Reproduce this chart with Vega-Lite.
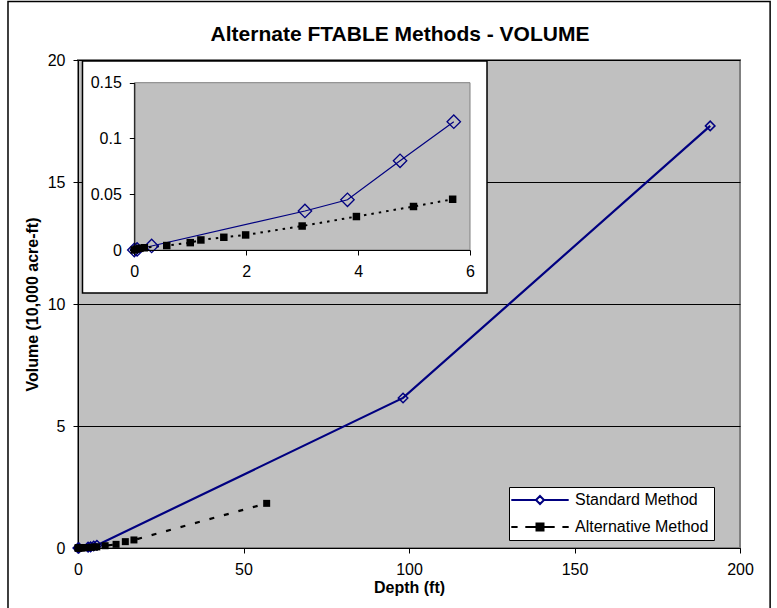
{
  "$schema": "https://vega.github.io/schema/vega-lite/v6.json",
  "width": 662,
  "height": 488,
  "autosize": {"type": "none"},
  "padding": {"left": 78, "top": 60, "right": 37, "bottom": 60},
  "background": "white",
  "title": {"text": "Alternate FTABLE Methods - VOLUME", "fontSize": 21, "fontWeight": "bold", "font": "Liberation Sans", "color": "black", "anchor": "middle", "dx": -9, "offset": -61, "baseline": "alphabetic"},
  "data": {
    "values": [
      {"method": "Standard Method", "depth": 0, "volume": 0},
      {"method": "Standard Method", "depth": 0.05, "volume": 0.0005},
      {"method": "Standard Method", "depth": 0.31, "volume": 0.0036},
      {"method": "Standard Method", "depth": 3.05, "volume": 0.035},
      {"method": "Standard Method", "depth": 3.81, "volume": 0.045},
      {"method": "Standard Method", "depth": 4.75, "volume": 0.08},
      {"method": "Standard Method", "depth": 5.71, "volume": 0.115},
      {"method": "Standard Method", "depth": 98.2, "volume": 6.15},
      {"method": "Standard Method", "depth": 191, "volume": 17.3},
      {"method": "Alternative Method", "depth": 0, "volume": 0},
      {"method": "Alternative Method", "depth": 0.04, "volume": 0.0008},
      {"method": "Alternative Method", "depth": 0.1, "volume": 0.0015},
      {"method": "Alternative Method", "depth": 0.18, "volume": 0.002},
      {"method": "Alternative Method", "depth": 0.58, "volume": 0.004},
      {"method": "Alternative Method", "depth": 1.0, "volume": 0.0066},
      {"method": "Alternative Method", "depth": 1.19, "volume": 0.009},
      {"method": "Alternative Method", "depth": 1.6, "volume": 0.0114},
      {"method": "Alternative Method", "depth": 1.99, "volume": 0.0135},
      {"method": "Alternative Method", "depth": 3.0, "volume": 0.0215},
      {"method": "Alternative Method", "depth": 3.97, "volume": 0.03},
      {"method": "Alternative Method", "depth": 4.99, "volume": 0.039},
      {"method": "Alternative Method", "depth": 5.69, "volume": 0.0455},
      {"method": "Alternative Method", "depth": 8.2, "volume": 0.094},
      {"method": "Alternative Method", "depth": 11.5, "volume": 0.15},
      {"method": "Alternative Method", "depth": 14.3, "volume": 0.26},
      {"method": "Alternative Method", "depth": 16.9, "volume": 0.33},
      {"method": "Alternative Method", "depth": 57, "volume": 1.83}
    ]
  },
  "layer": [
    {
      "data": {"values": [{}]},
      "mark": {"type": "rect", "fill": null, "fillOpacity": 0, "stroke": "black", "strokeWidth": 1.5},
      "encoding": {
        "x": {"datum": -21.15, "type": "quantitative", "scale": {"domain": [0, 200]}, "axis": null},
        "x2": {"datum": 209.1},
        "y": {"datum": 22.4, "type": "quantitative", "scale": {"domain": [0, 20]}, "axis": null},
        "y2": {"datum": -3}
      }
    },
    {
      "transform": [{"filter": "datum.method == 'Standard Method'"}],
      "mark": {"type": "line", "strokeWidth": 2.2},
      "encoding": {
        "x": {"field": "depth", "type": "quantitative", "scale": {"domain": [0, 200]}, "axis": {"orient": "bottom", "title": "Depth (ft)", "values": [0, 50, 100, 150, 200], "grid": false, "labelFlush": false, "titlePadding": 2}},
        "y": {"field": "volume", "type": "quantitative", "scale": {"domain": [0, 20]}, "axis": {"orient": "left", "title": "Volume (10,000 acre-ft)", "values": [0, 5, 10, 15, 20], "grid": true, "gridColor": "black", "gridWidth": 1, "labelFlush": false, "titlePadding": 7}},
        "color": {
          "field": "method", "type": "nominal",
          "scale": {"domain": ["Standard Method", "Alternative Method"], "range": ["#000080", "#000000"]},
          "legend": {
            "orient": "none", "legendX": 431, "legendY": 427, "title": null,
            "fillColor": "white", "strokeColor": "black", "padding": 5, "rowPadding": 11,
            "labelFont": "Liberation Sans", "labelFontSize": 16, "labelColor": "black",
            "symbolSize": 196, "symbolOffset": 18, "labelOffset": 27,
            "encode": {
              "symbols": {
                "update": {
                  "shape": {"signal": "datum.value == 'Standard Method' ? 'M-4.1,0H-0.57M0.57,0H4.1M0,-0.57L0.57,0L0,0.57L-0.57,0Z' : 'M-4.1,0H-3.2M-2.1,0H-0.5M0.5,0H2.1M3.2,0H4.1M-0.5,-0.5H0.5V0.5H-0.5Z'"},
                  "stroke": {"signal": "datum.value == 'Standard Method' ? '#000080' : '#000000'"},
                  "fill": {"signal": "datum.value == 'Standard Method' ? '#ffffff' : '#000000'"},
                  "strokeWidth": {"value": 2},
                  "opacity": {"value": 1},
                  "fillOpacity": {"value": 1},
                  "strokeOpacity": {"value": 1}
                }
              }
            }
          }
        }
      }
    },
    {
      "transform": [{"filter": "datum.method == 'Alternative Method'"}],
      "mark": {"type": "line", "strokeWidth": 2.2, "color": "black", "strokeDash": [5, 10]},
      "encoding": {
        "x": {"field": "depth", "type": "quantitative", "scale": {"domain": [0, 200]}, "axis": null},
        "y": {"field": "volume", "type": "quantitative", "scale": {"domain": [0, 20]}, "axis": null}
      }
    },
    {
      "transform": [{"filter": "datum.method == 'Standard Method'"}],
      "mark": {"type": "point", "shape": "diamond", "filled": false, "stroke": "#000080", "strokeWidth": 1.5, "size": 90, "opacity": 1},
      "encoding": {
        "x": {"field": "depth", "type": "quantitative", "scale": {"domain": [0, 200]}, "axis": null},
        "y": {"field": "volume", "type": "quantitative", "scale": {"domain": [0, 20]}, "axis": null}
      }
    },
    {
      "transform": [{"filter": "datum.method == 'Alternative Method'"}],
      "mark": {"type": "point", "shape": "square", "filled": true, "fill": "black", "size": 49, "opacity": 1},
      "encoding": {
        "x": {"field": "depth", "type": "quantitative", "scale": {"domain": [0, 200]}, "axis": null},
        "y": {"field": "volume", "type": "quantitative", "scale": {"domain": [0, 20]}, "axis": null}
      }
    },
    {
      "data": {"values": [{}]},
      "mark": {"type": "rect", "fill": "white", "stroke": "black", "strokeWidth": 1.5},
      "encoding": {
        "x": {"datum": -0.926, "type": "quantitative", "scale": {"domain": [0, 6], "range": [56.3, 392]}, "axis": null},
        "x2": {"datum": 6.304},
        "y": {"datum": 0.1695, "type": "quantitative", "scale": {"domain": [0, 0.15], "range": [190, 22.7]}, "axis": null},
        "y2": {"datum": -0.0386}
      }
    },
    {
      "data": {"values": [{}]},
      "mark": {"type": "rect", "fill": "#c0c0c0", "stroke": "#808080", "strokeWidth": 1},
      "encoding": {
        "x": {"datum": 0, "type": "quantitative", "scale": {"domain": [0, 6], "range": [56.3, 392]}, "axis": null},
        "x2": {"datum": 6},
        "y": {"datum": 0, "type": "quantitative", "scale": {"domain": [0, 0.15], "range": [190, 22.7]}, "axis": null},
        "y2": {"datum": 0.15}
      }
    },
    {
      "transform": [{"filter": "datum.method == 'Standard Method' && datum.depth <= 6"}],
      "mark": {"type": "line", "strokeWidth": 1.2, "color": "#000080"},
      "encoding": {
        "x": {"field": "depth", "type": "quantitative", "scale": {"domain": [0, 6], "range": [56.3, 392]}, "axis": {"orient": "bottom", "offset": -298, "values": [0, 2, 4, 6], "grid": false, "title": null, "labelFlush": false, "zindex": 1}},
        "y": {"field": "volume", "type": "quantitative", "scale": {"domain": [0, 0.15], "range": [190, 22.7]}, "axis": {"orient": "left", "offset": -56.3, "values": [0, 0.05, 0.1, 0.15], "format": ".2~f", "grid": false, "title": null, "labelFlush": false, "zindex": 1}}
      }
    },
    {
      "transform": [{"filter": "datum.method == 'Alternative Method' && datum.depth <= 6"}],
      "mark": {"type": "line", "strokeWidth": 2, "color": "black", "strokeDash": [2.5, 5]},
      "encoding": {
        "x": {"field": "depth", "type": "quantitative", "scale": {"domain": [0, 6], "range": [56.3, 392]}, "axis": null},
        "y": {"field": "volume", "type": "quantitative", "scale": {"domain": [0, 0.15], "range": [190, 22.7]}, "axis": null}
      }
    },
    {
      "transform": [{"filter": "datum.method == 'Standard Method' && datum.depth <= 6"}],
      "mark": {"type": "point", "shape": "diamond", "filled": false, "stroke": "#000080", "strokeWidth": 1.3, "size": 180, "opacity": 1},
      "encoding": {
        "x": {"field": "depth", "type": "quantitative", "scale": {"domain": [0, 6], "range": [56.3, 392]}, "axis": null},
        "y": {"field": "volume", "type": "quantitative", "scale": {"domain": [0, 0.15], "range": [190, 22.7]}, "axis": null}
      }
    },
    {
      "transform": [{"filter": "datum.method == 'Alternative Method' && datum.depth <= 6"}],
      "mark": {"type": "point", "shape": "square", "filled": true, "fill": "black", "size": 56, "opacity": 1},
      "encoding": {
        "x": {"field": "depth", "type": "quantitative", "scale": {"domain": [0, 6], "range": [56.3, 392]}, "axis": null},
        "y": {"field": "volume", "type": "quantitative", "scale": {"domain": [0, 0.15], "range": [190, 22.7]}, "axis": null}
      }
    }
  ],
  "resolve": {"scale": {"x": "independent", "y": "independent"}},
  "config": {
    "view": {"fill": "#c0c0c0", "stroke": "#808080", "strokeWidth": 2},
    "axis": {
      "labelFont": "Liberation Sans", "labelFontSize": 16, "labelColor": "black",
      "titleFont": "Liberation Sans", "titleFontSize": 16, "titleFontWeight": "bold", "titleColor": "black",
      "domainColor": "black", "tickColor": "black", "tickSize": 5, "labelPadding": 8,
      "labelOverlap": false
    }
  }
}
